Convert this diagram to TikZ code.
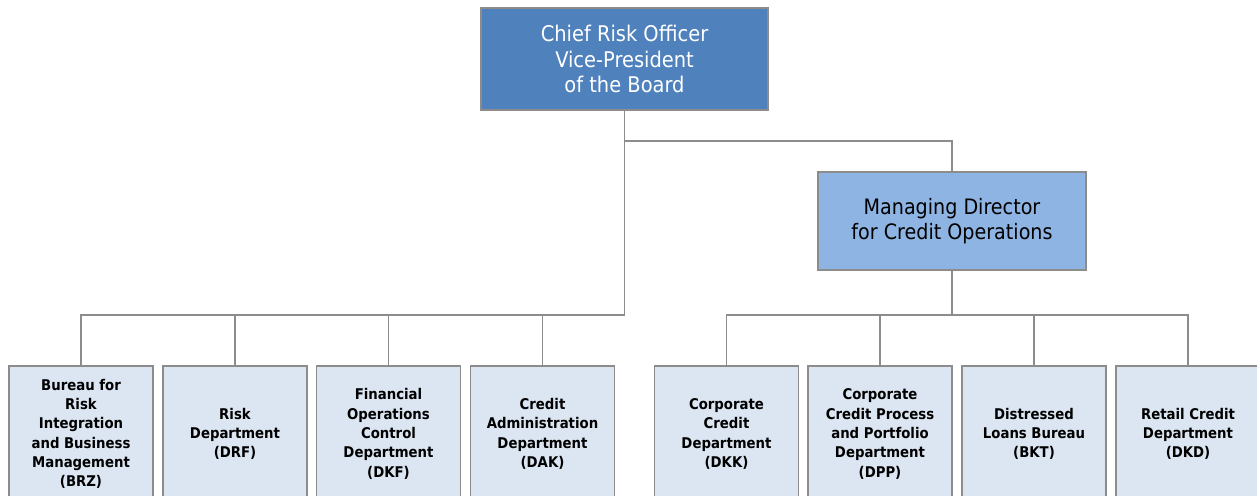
\documentclass[tikz,border=0pt]{standalone}
\usepackage{fontspec}
\setmainfont{DejaVu Sans Condensed}
\usepackage{xcolor}
\usetikzlibrary{positioning}
\definecolor{chiefblue}{HTML}{4F81BD}
\definecolor{directorblue}{HTML}{8DB4E2}
\definecolor{deptblue}{HTML}{DCE6F2}
\definecolor{linegray}{HTML}{8C8C8C}
\tikzset{
    chief/.style={
        rectangle,
        draw=linegray,
        line width=0.9pt,
        minimum width=5.74cm,
        minimum height=2.04cm,
        fill=chiefblue,
        text=white,
        align=center,
        font=\fontsize{12.3}{14.6}\selectfont
    },
    director/.style={
        rectangle,
        draw=linegray,
        line width=0.9pt,
        minimum width=5.36cm,
        minimum height=1.96cm,
        fill=directorblue,
        align=center,
        font=\fontsize{12.1}{14.4}\selectfont
    },
    dept/.style={
        rectangle,
        draw=linegray,
        line width=0.9pt,
        minimum width=2.88cm,
        minimum height=2.72cm,
        fill=deptblue,
        align=center,
        font=\fontsize{8.4}{11}\selectfont\bfseries
    },
    link/.style={
        draw=linegray,
        line width=0.6pt
    }
}
\begin{document}
\begin{tikzpicture}[x=0.02cm, y=-0.02cm]
\useasboundingbox (0,0) rectangle (1257,495);

% Top of the chart
\node[chief] (cro) at (624.5,59) {Chief Risk Officer\\Vice-President\\of the Board};
\node[director] (mdco) at (952,221) {Managing Director\\for Credit Operations};

% Departments under the CRO (left)
\node[dept] (brz) at (81,434) {Bureau for\\Risk\\Integration\\and Business\\Management\\(BRZ)};
\node[dept] (drf) at (235,434) {Risk\\Department\\(DRF)};
\node[dept] (dkf) at (388.5,434) {Financial\\Operations\\Control\\Department\\(DKF)};
\node[dept] (dak) at (542.5,434) {Credit\\Administration\\Department\\(DAK)};

% Departments under the managing director (right)
\node[dept] (dkk) at (726.5,434) {Corporate\\Credit\\Department\\(DKK)};
\node[dept] (dpp) at (880,434) {Corporate\\Credit Process\\and Portfolio\\Department\\(DPP)};
\node[dept] (bkt) at (1034,434) {Distressed\\Loans Bureau\\(BKT)};
\node[dept] (dkd) at (1188,434) {Retail Credit\\Department\\(DKD)};

% Bus points
\coordinate (split) at (624.5,141);
\coordinate (leftbus) at (624.5,315);
\coordinate (rightbus) at (952,315);

% Connections
\draw[link] (cro.south) -- (leftbus);
\draw[link] (split) -| (mdco.north);
\draw[link] (mdco.south) -- (rightbus);
\foreach \n in {brz,drf,dkf,dak}
    \draw[link] (\n.north) |- (leftbus);
\foreach \n in {dkk,dpp,bkt,dkd}
    \draw[link] (\n.north) |- (rightbus);

\end{tikzpicture}
\end{document}
